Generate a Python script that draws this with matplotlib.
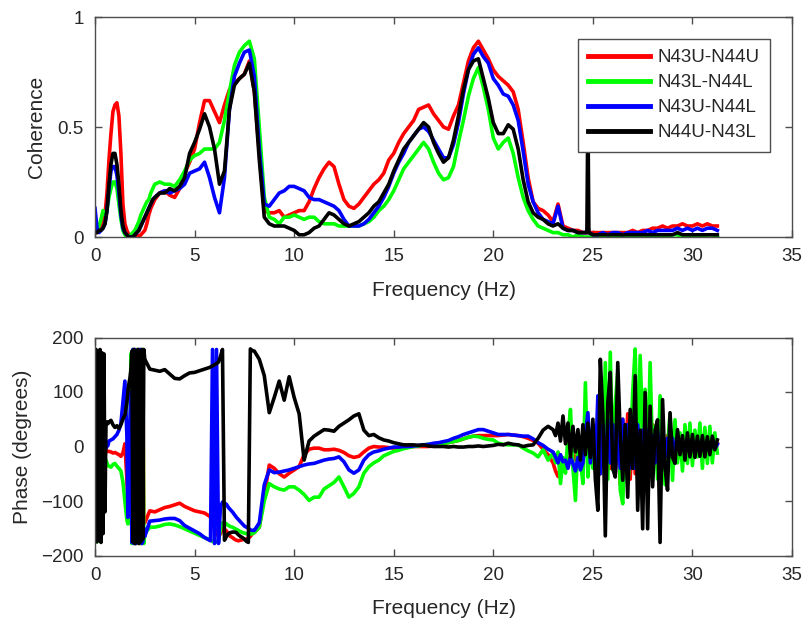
"""Coherence and phase spectra for the four sensor pairs."""

import matplotlib
matplotlib.use('Agg')  # Non-interactive backend
import matplotlib.pyplot as plt
import numpy as np

plt.rcParams['font.family'] = ['Liberation Sans', 'DejaVu Sans']

pair_labels = ['N43U-N44U', 'N43L-N44L', 'N43U-N44L', 'N44U-N43L']
pair_colors = ['#ff0000', '#00ff00', '#0000ff', '#000000']

# Frequency grid for the coherence estimates (Hz)
freq_coh = np.concatenate([
    np.linspace(0.0, 2.9, 30),
    np.linspace(3.0, 24.5, 87),
    [24.7, 24.75, 24.8],
    np.linspace(25.0, 31.25, 26),
])

coh_red = [
    0.02, 0.02, 0.03, 0.04, 0.06, 0.10, 0.20, 0.35, 0.47, 0.57,
    0.60, 0.61, 0.55, 0.38, 0.15, 0.06, 0.03, 0.01, 0.00, 0.00,
    0.00, 0.01, 0.00, 0.01, 0.02, 0.03, 0.06, 0.10, 0.13, 0.15,
    0.17, 0.20, 0.21, 0.19, 0.18, 0.22, 0.29, 0.34, 0.40, 0.52,
    0.62, 0.62, 0.57, 0.52, 0.60, 0.67, 0.70, 0.72, 0.74, 0.80,
    0.66, 0.38, 0.12, 0.11, 0.11, 0.12, 0.09, 0.10, 0.11, 0.12,
    0.12, 0.16, 0.22, 0.27, 0.31, 0.34, 0.32, 0.24, 0.17, 0.14,
    0.13, 0.15, 0.18, 0.21, 0.24, 0.26, 0.29, 0.35, 0.38, 0.43,
    0.47, 0.50, 0.53, 0.58, 0.59, 0.60, 0.56, 0.53, 0.50, 0.49,
    0.55, 0.60, 0.70, 0.80, 0.86, 0.89, 0.85, 0.81, 0.76, 0.73,
    0.71, 0.69, 0.66, 0.58, 0.43, 0.27, 0.16, 0.13, 0.12, 0.10,
    0.07, 0.15, 0.05, 0.04, 0.03, 0.03, 0.02,
    0.02, 0.02, 0.02,
    0.02, 0.02, 0.02, 0.02, 0.02, 0.02, 0.02, 0.02, 0.03, 0.02,
    0.03, 0.03, 0.04, 0.04, 0.05, 0.04, 0.05, 0.05, 0.06, 0.05,
    0.05, 0.06, 0.05, 0.06, 0.05, 0.05,
]

coh_green = [
    0.02, 0.03, 0.05, 0.08, 0.12, 0.10, 0.12, 0.18, 0.22, 0.25,
    0.25, 0.22, 0.15, 0.08, 0.03, 0.01, 0.00, 0.00, 0.01, 0.02,
    0.03, 0.05, 0.07, 0.10, 0.12, 0.14, 0.16, 0.17, 0.20, 0.22,
    0.24, 0.25, 0.24, 0.24, 0.23, 0.26, 0.30, 0.35, 0.37, 0.38,
    0.40, 0.40, 0.40, 0.43, 0.53, 0.66, 0.78, 0.84, 0.87, 0.89,
    0.81, 0.50, 0.18, 0.09, 0.08, 0.06, 0.09, 0.09, 0.10, 0.09,
    0.08, 0.09, 0.09, 0.07, 0.06, 0.06, 0.06, 0.05, 0.05, 0.05,
    0.05, 0.05, 0.06, 0.07, 0.09, 0.12, 0.14, 0.17, 0.21, 0.26,
    0.31, 0.34, 0.37, 0.40, 0.43, 0.40, 0.34, 0.29, 0.26, 0.27,
    0.32, 0.43, 0.53, 0.64, 0.72, 0.77, 0.68, 0.58, 0.45, 0.40,
    0.43, 0.45, 0.38, 0.27, 0.18, 0.12, 0.08, 0.05, 0.04, 0.03,
    0.02, 0.02, 0.01, 0.01, 0.00, 0.01, 0.00,
    0.00, 0.00, 0.00,
    0.00, 0.01, 0.00, 0.00, 0.01, 0.00, 0.00, 0.01, 0.00, 0.00,
    0.01, 0.00, 0.01, 0.00, 0.01, 0.00, 0.01, 0.01, 0.00, 0.01,
    0.00, 0.01, 0.00, 0.01, 0.01, 0.00,
]

coh_blue = [
    0.13, 0.04, 0.02, 0.03, 0.04, 0.06, 0.12, 0.22, 0.30, 0.32,
    0.32, 0.28, 0.20, 0.10, 0.04, 0.02, 0.01, 0.00, 0.00, 0.00,
    0.01, 0.02, 0.03, 0.05, 0.07, 0.09, 0.11, 0.13, 0.15, 0.17,
    0.18, 0.20, 0.21, 0.20, 0.21, 0.22, 0.24, 0.29, 0.30, 0.31,
    0.34, 0.27, 0.18, 0.11, 0.27, 0.58, 0.73, 0.79, 0.84, 0.85,
    0.73, 0.40, 0.15, 0.14, 0.17, 0.20, 0.21, 0.23, 0.23, 0.22,
    0.21, 0.18, 0.17, 0.17, 0.16, 0.15, 0.14, 0.12, 0.08, 0.05,
    0.05, 0.05, 0.06, 0.08, 0.11, 0.14, 0.18, 0.23, 0.29, 0.34,
    0.38, 0.43, 0.46, 0.49, 0.50, 0.48, 0.44, 0.40, 0.36, 0.36,
    0.42, 0.52, 0.65, 0.76, 0.83, 0.86, 0.82, 0.79, 0.72, 0.69,
    0.65, 0.64, 0.60, 0.53, 0.39, 0.24, 0.16, 0.11, 0.08, 0.07,
    0.06, 0.14, 0.04, 0.03, 0.03, 0.02, 0.02,
    0.02, 0.05, 0.02,
    0.01, 0.01, 0.02, 0.01, 0.02, 0.02, 0.01, 0.02, 0.02, 0.02,
    0.02, 0.03, 0.02, 0.03, 0.03, 0.03, 0.03, 0.04, 0.03, 0.04,
    0.03, 0.04, 0.03, 0.04, 0.04, 0.03,
]

coh_black = [
    0.02, 0.02, 0.03, 0.03, 0.04, 0.06, 0.12, 0.24, 0.33, 0.38,
    0.38, 0.33, 0.24, 0.12, 0.05, 0.02, 0.01, 0.00, 0.00, 0.00,
    0.01, 0.02, 0.03, 0.05, 0.07, 0.09, 0.11, 0.13, 0.15, 0.17,
    0.18, 0.20, 0.20, 0.22, 0.21, 0.23, 0.27, 0.38, 0.43, 0.49,
    0.56, 0.50, 0.40, 0.24, 0.30, 0.58, 0.69, 0.72, 0.74, 0.79,
    0.66, 0.35, 0.09, 0.06, 0.05, 0.05, 0.05, 0.04, 0.03, 0.01,
    0.01, 0.02, 0.04, 0.05, 0.08, 0.11, 0.10, 0.08, 0.06, 0.05,
    0.06, 0.07, 0.09, 0.11, 0.14, 0.16, 0.20, 0.24, 0.30, 0.35,
    0.40, 0.43, 0.46, 0.49, 0.52, 0.50, 0.43, 0.38, 0.34, 0.36,
    0.44, 0.55, 0.67, 0.76, 0.80, 0.81, 0.72, 0.63, 0.52, 0.47,
    0.47, 0.51, 0.49, 0.40, 0.26, 0.16, 0.11, 0.09, 0.08, 0.06,
    0.05, 0.06, 0.04, 0.03, 0.03, 0.02, 0.02,
    0.02, 0.60, 0.02,
    0.01, 0.01, 0.01, 0.01, 0.01, 0.01, 0.01, 0.01, 0.01, 0.01,
    0.01, 0.01, 0.01, 0.01, 0.01, 0.01, 0.01, 0.02, 0.01, 0.01,
    0.01, 0.01, 0.01, 0.01, 0.01, 0.01,
]

# Frequency grid for the phase estimates (Hz), finer where the phase wraps
freq_phase = np.concatenate([
    np.linspace(0.0, 0.65, 14),
    np.linspace(0.7, 1.5, 9),
    np.linspace(1.6, 2.45, 18),
    np.linspace(2.5, 5.75, 14),
    np.linspace(5.8, 7.9, 22),
    np.linspace(8.0, 22.75, 60),
    np.linspace(23.0, 31.25, 67),
])

phase_red = [
    -150, 170, -170, 160, -160, 150, -100, 60, -20, -10, -12, -10, -8, -9,
    -9, -10, -12, -11, -13, -15, -18, -12, 5,
    -60, -100, -120, -30, 80, -170, 176, -176, 178, -178, 176, -176, 178,
    -178, 176, -178, 170, -140,
    -140, -118, -120, -116, -112, -110, -107, -104, -110, -114, -118, -120,
    -122, -128,
    -130, -140, -150, -160, -165, -160, -150, -152, -155, -160, -165, -167,
    -170, -172, -173, -172, -171, -170, -170, -168, -165, -160,
    -158, -148, -90, -34, -40, -50, -56, -49, -43, -37,
    -15, -5, -3, -3, -6, -6, -5, -7, -11, -17,
    -20, -18, -10, -3, 0, -1, -1, -2, -3, -2,
    -1, -1, 0, 0, 0, 0, 1, 2, 5, 7,
    9, 11, 14, 17, 19, 20, 20, 20, 20, 20,
    21, 22, 21, 20, 18, 15, 11, 6, -5, -15,
    -30, -45, -55, -40, -35, -30, -25, -20,
    -15, -25, -10, 5, -20, 15, -10, 20,
    31, -20, 40, -50, 60, -60, 50, -40,
    60, -50, 40, -70, 50, -40, 60, -60,
    40, -50, 50, -40, 40, -50, 30, -40,
    40, -30, 30, -40, 30, -30, 20, -20,
    20, -15, 15, -20, 15, -15, 10, -10,
    10, -10, 12, -8, 10, -10, 8, -8,
    8, -6, 5,
]

phase_green = [
    178, 150, -175, 170, -170, 165, -175, 100, -31, -28, -26, -25, -30, -35,
    -36, -38, -33, -31, -36, -40, -45, -65, -100,
    -135, -142, -140, -60, 170, -178, 178, -176, 176, -178, 178, -176, 176,
    -178, 178, -176, 178, -178,
    -160, -148, -148, -146, -143, -142, -144, -147, -151, -155, -159, -163,
    -167, -171,
    -172, -174, -176, -175, -174, -150, -140, -140, -142, -145, -147, -148,
    -150, -152, -154, -156, -158, -159, -160, -160, -161, -160,
    -158, -148, -100, -68, -74, -78, -80, -74, -74, -80,
    -88, -99, -93, -93, -78, -72, -66, -56, -74, -93,
    -86, -74, -49, -37, -30, -25, -17, -13, -9, -7,
    -4, -2, 0, 1, 3, 4, 5, 5, 6, 7,
    9, 11, 14, 17, 19, 18, 15, 13, 12, 6,
    4, 3, 3, 3, -3, -8, -12, -19, -6, -25,
    -12, -30, -10, -68, -20, -49, 20, 68,
    -40, -99, 10, -25, -68, 117, -56, 20,
    -40, 31, -80, 93, -30, 154, -60, 173,
    -43, 80, 136, -80, -105, 20, -70, -19,
    100, 179, -50, 167, 30, 105, -40, 154,
    -19, 37, -60, 93, 20, -70, 0, 60,
    -62, 49, -30, 25, -45, 40, -31, 43,
    -35, 30, -19, 43, -40, 35, -31, 37,
    -30, 25, -12,
]

phase_blue = [
    170, -160, 160, -170, 175, -165, 170, -150, -60, -6, -5, -3, 0, 2,
    10, 12, 14, 18, 22, 30, 42, 80, 120,
    20, -130, -80, 40, 100, -176, 178, -178, 178, -178, 176, -176, 178,
    -176, 178, -178, -175, -150,
    -165, -137, -136, -135, -133, -132, -132, -136, -145, -150, -155, -160,
    -167, -172,
    -173, 178, -178, 178, -178, -110, -102, -104, -106, -112, -116, -120,
    -125, -130, -134, -138, -142, -146, -148, -150, -153, -154,
    -154, -140, -70, -43, -48, -47, -45, -43, -40, -37,
    -34, -32, -31, -28, -25, -23, -22, -19, -28, -43,
    -49, -43, -25, -15, -10, -8, -5, -3, -1, -1,
    0, 0, 1, 2, 3, 4, 6, 7, 9, 11,
    15, 18, 22, 25, 28, 31, 31, 28, 25, 22,
    22, 22, 21, 20, 19, 19, 14, 7, 2, -5,
    -10, -19, -30, -15, -28, -25, -40, -20,
    -31, -45, -20, -43, -30, 20, 62, -30,
    40, -40, 93, -50, 40, -60, 50, -30,
    40, -50, 30, -40, 50, -30, 40, -40,
    30, -40, 40, -30, 30, -40, 30, -30,
    20, -30, 30, -20, 20, -20, 15, -15,
    15, -10, 10, -12, 8, -8, 10, -6,
    8, -8, 6, -6, 8, -5, 6, -6,
    5, -4, 4,
]

phase_black = [
    -165, 178, -175, 175, -172, 178, -176, 172, -160, 170, -120, 40, 45, 42,
    45, 48, 40, 35, 38, 33, 40, 50, 58,
    80, 100, 115, 125, 140, 175, -175, 178, -178, 176, -176, 178, -178,
    175, -175, 178, -170, 178,
    160, 142, 140, 138, 141, 133, 125, 124, 130, 135, 136, 139, 142, 145,
    146, 148, 150, 152, 155, 165, 178, -172, -165, -160, -158, -157,
    -157, -158, -162, -165, -167, -170, -174, -176, 179, 176,
    175, 160, 130, 62, 90, 120, 85, 128, 90, 60,
    -25, 10, 19, 25, 31, 30, 28, 37, 43, 49,
    56, 60, 30, 20, 22, 16, 12, 10, 7, 5,
    3, 3, 3, 2, 3, 1, 0, 0, 0, -1,
    0, -1, -1, 0, 0, 1, 0, 1, 2, 4,
    3, 6, 4, 3, 0, 2, 3, 15, 30, 37,
    31, 20, 43, 10, 56, 5, 43, -19,
    37, -10, 31, -25, 40, -15, 43, -20,
    50, -60, -117, 160, 60, -164, 80, 136,
    -40, -56, 154, 20, -62, 40, -93, 68,
    -40, 130, -117, 30, -151, 99, -151, 74,
    -74, 30, 49, -176, 86, -40, -80, 62,
    -20, -31, 31, -15, 20, -25, 25, -19,
    22, -20, 19, -18, 20, -19, 18, -15,
    19, -6, 12,
]

coherence = [coh_red, coh_green, coh_blue, coh_black]
phase = [phase_red, phase_green, phase_blue, phase_black]

freq_ticks = [0, 5, 10, 15, 20, 25, 30, 35]
coh_ticks = [0, 0.5, 1]
coh_tick_labels = ['0', '0.5', '1']
phase_ticks = [-200, -100, 0, 100, 200]

TEXT_COLOR = '#262626'
FRAME_COLOR = '#4d4d4d'
LINE_WIDTH = 2.6


def style_axes(ax):
    """MATLAB-like box with inward ticks on all four sides."""
    for spine in ax.spines.values():
        spine.set_color(FRAME_COLOR)
        spine.set_linewidth(1.0)
    ax.tick_params(direction='in', top=True, right=True, length=5,
                   width=1.0, color=FRAME_COLOR, labelcolor=TEXT_COLOR,
                   labelsize=13.5, pad=8)
    ax.set_xlim(0, 35)
    ax.set_xticks(freq_ticks)
    ax.set_xlabel('Frequency (Hz)', fontsize=15, color=TEXT_COLOR)
    ax.xaxis.set_label_coords(0.5, -0.2)


def plot_coherence(ax):
    for values, color, label in zip(coherence, pair_colors, pair_labels):
        ax.plot(freq_coh, values, color=color, linewidth=LINE_WIDTH,
                label=label)
    ax.set_ylim(0, 1)
    ax.set_yticks(coh_ticks)
    ax.set_yticklabels(coh_tick_labels)
    ax.set_ylabel('Coherence', fontsize=15, color=TEXT_COLOR)
    ax.yaxis.set_label_coords(-0.07, 0.5)
    style_axes(ax)

    leg = ax.legend(loc='upper right', bbox_to_anchor=(0.968, 0.9),
                    borderaxespad=0, fancybox=False, framealpha=1,
                    edgecolor=FRAME_COLOR, fontsize=13.5, handlelength=3.3,
                    handletextpad=0.4, labelspacing=0.42, borderpad=0.55)
    leg.get_frame().set_linewidth(1.0)
    for line in leg.get_lines():
        line.set_linewidth(3.5)
    for text in leg.get_texts():
        text.set_color(TEXT_COLOR)


def plot_phase(ax):
    for values, color in zip(phase, pair_colors):
        ax.plot(freq_phase, values, color=color, linewidth=LINE_WIDTH)
    ax.set_ylim(-200, 200)
    ax.set_yticks(phase_ticks)
    ax.set_ylabel('Phase (degrees)', fontsize=15, color=TEXT_COLOR)
    ax.yaxis.set_label_coords(-0.09, 0.5)
    style_axes(ax)


fig = plt.figure(figsize=(8.08, 6.25), dpi=100)
ax_coh = fig.add_axes([0.1176, 0.6208, 0.8626, 0.352])
ax_phase = fig.add_axes([0.1176, 0.1112, 0.8626, 0.3488])

plot_coherence(ax_coh)
plot_phase(ax_phase)

fig.savefig('out.png', dpi=100)
plt.close(fig)
